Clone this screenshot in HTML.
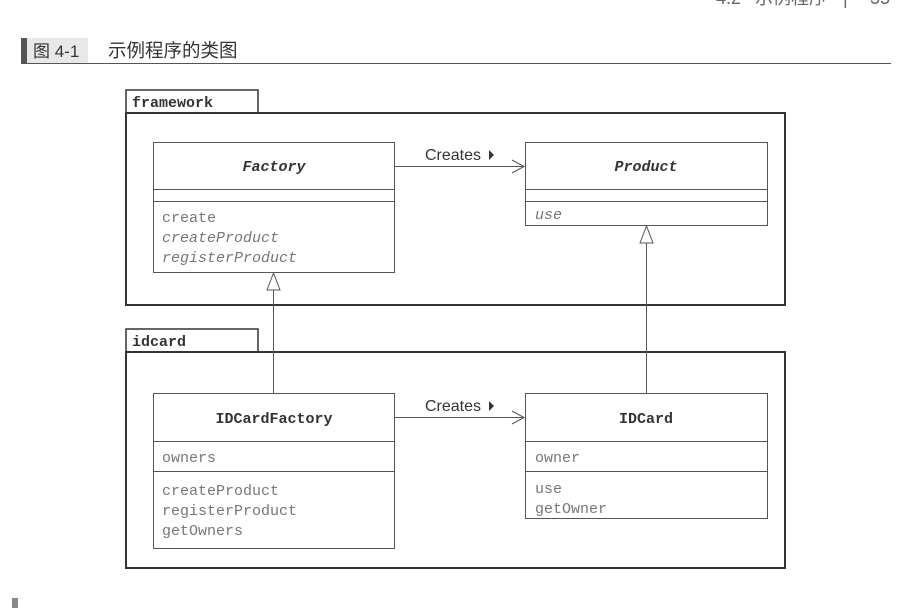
<!DOCTYPE html>
<html><head><meta charset="utf-8"><style>
body{margin:0;background:#fff;width:898px;height:608px;overflow:hidden}
svg{display:block}
.m{font-family:"Liberation Mono",monospace;font-size:15px;fill:#777}
.b{font-family:"Liberation Mono",monospace;font-size:15px;font-weight:bold;fill:#333}
.s{font-family:"Liberation Sans",sans-serif;font-size:16px;fill:#333}
.c{font-family:"Liberation Sans","Noto Sans CJK SC",sans-serif}
</style></head><body>
<svg width="898" height="608" viewBox="0 0 898 608">
<g class="c" style="font-size:18px;fill:#666">
<text x="716" y="4">4.2</text><text x="755" y="4">示例程序</text><text x="843" y="4">|</text><text x="870" y="4">35</text>
</g>
<rect x="21" y="38" width="6" height="25" fill="#555"/>
<rect x="27" y="38" width="61" height="25" fill="#e8e8e8"/>
<text x="33" y="57" class="c" style="font-size:17px;fill:#333">图 4-1</text>
<text x="108" y="57" class="c" style="font-size:18.5px;fill:#333">示例程序的类图</text>
<line x1="21" y1="63.5" x2="891" y2="63.5" stroke="#555" stroke-width="1"/>
<rect x="12" y="598" width="6" height="10" fill="#888"/>
<g fill="none" stroke="#333">
<rect x="126" y="90" width="132" height="23" stroke-width="1.5"/>
<rect x="126" y="113" width="659" height="192" stroke-width="2"/>
<rect x="126" y="329" width="132" height="23" stroke-width="1.5"/>
<rect x="126" y="352" width="659" height="216" stroke-width="2"/>
</g>
<g fill="none" stroke="#555" stroke-width="1">
<rect x="153.5" y="142.5" width="241" height="130"/>
<line x1="153" y1="189.5" x2="394" y2="189.5"/><line x1="153" y1="201.5" x2="394" y2="201.5"/>
<rect x="525.5" y="142.5" width="242" height="83"/>
<line x1="525" y1="189.5" x2="767" y2="189.5"/><line x1="525" y1="201.5" x2="767" y2="201.5"/>
<rect x="153.5" y="393.5" width="241" height="155"/>
<line x1="153" y1="441.5" x2="394" y2="441.5"/><line x1="153" y1="471.5" x2="394" y2="471.5"/>
<rect x="525.5" y="393.5" width="242" height="125"/>
<line x1="525" y1="441.5" x2="767" y2="441.5"/><line x1="525" y1="471.5" x2="767" y2="471.5"/>
<line x1="394" y1="166.5" x2="524" y2="166.5"/><polyline points="512,160 524,166.5 512,173"/>
<line x1="394" y1="417.5" x2="524" y2="417.5"/><polyline points="512,411 524,417.5 512,424"/>
<line x1="273.5" y1="290" x2="273.5" y2="393"/><polygon points="273.5,273 267,290 280,290" fill="#fff"/>
<line x1="646.5" y1="243" x2="646.5" y2="393"/><polygon points="646.5,226 640,243 653,243" fill="#fff"/>
</g>
<text x="132" y="107" class="b">framework</text>
<text x="132" y="346" class="b">idcard</text>
<text x="425" y="160" class="s">Creates</text><polygon points="489,150 494,155 489,160" fill="#333"/>
<text x="425" y="411" class="s">Creates</text><polygon points="489,401 494,406 489,411" fill="#333"/>
<text x="274" y="171" class="b" text-anchor="middle" font-style="italic">Factory</text>
<text x="646" y="171" class="b" text-anchor="middle" font-style="italic">Product</text>
<text x="274" y="423" class="b" text-anchor="middle">IDCardFactory</text>
<text x="646" y="423" class="b" text-anchor="middle">IDCard</text>
<text x="162" y="222" class="m">create</text>
<text x="162" y="242" class="m" font-style="italic">createProduct</text>
<text x="162" y="262" class="m" font-style="italic">registerProduct</text>
<text x="535" y="219" class="m" font-style="italic">use</text>
<text x="162" y="462" class="m">owners</text>
<text x="162" y="495" class="m">createProduct</text>
<text x="162" y="515" class="m">registerProduct</text>
<text x="162" y="535" class="m">getOwners</text>
<text x="535" y="462" class="m">owner</text>
<text x="535" y="493" class="m">use</text>
<text x="535" y="513" class="m">getOwner</text>
</svg>
</body></html>
